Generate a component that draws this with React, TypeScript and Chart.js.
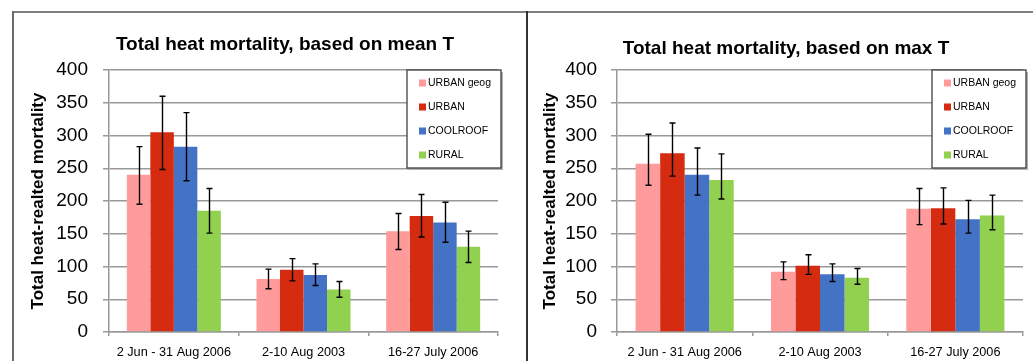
import React, { useEffect, useRef } from "react";
import { Chart, registerables } from "chart.js";

Chart.register(...registerables);

const categories = ["2 Jun - 31 Aug 2006", "2-10 Aug 2003", "16-27 July 2006"];
const seriesNames = ["URBAN geog", "URBAN", "COOLROOF", "RURAL"];
const seriesColors = ["#FF9B9B", "#D52B10", "#4472C4", "#92D050"];
const yMin = 0;
const yMax = 400;
const yStep = 50;
const yAxisTitle = "Total heat-realted mortality";

// Panel 1: based on mean T
const meanTitle = "Total heat mortality, based on mean T";
const meanUrbanGeog = [240, 81, 154];
const meanUrbanGeogLow = [195, 66, 126];
const meanUrbanGeogHigh = [283, 96, 181];
const meanUrban = [305, 95, 177];
const meanUrbanLow = [248, 78, 145];
const meanUrbanHigh = [360, 112, 210];
const meanCoolroof = [283, 87, 167];
const meanCoolroofLow = [231, 71, 137];
const meanCoolroofHigh = [335, 104, 198];
const meanRural = [185, 65, 130];
const meanRuralLow = [151, 53, 106];
const meanRuralHigh = [219, 77, 154];

// Panel 2: based on max T
const maxTitle = "Total heat mortality, based on max T";
const maxUrbanGeog = [257, 92, 188];
const maxUrbanGeogLow = [224, 80, 164];
const maxUrbanGeogHigh = [302, 107, 219];
const maxUrban = [273, 101, 189];
const maxUrbanLow = [238, 88, 165];
const maxUrbanHigh = [319, 118, 220];
const maxCoolroof = [240, 88, 172];
const maxCoolroofLow = [209, 77, 151];
const maxCoolroofHigh = [281, 104, 201];
const maxRural = [232, 83, 178];
const maxRuralLow = [203, 73, 156];
const maxRuralHigh = [272, 97, 209];

const FONT = "'Liberation Sans', Arial, sans-serif";

type PanelProps = {
  title: string;
  values: number[][];
  lows: number[][];
  highs: number[][];
  width: number;
  height: number;
  yAxisWidth: number;
  padRight: number;
  padTop: number;
  yTitlePad: number;
  yTickPad: number;
  titleX: number;
  titleY: number;
};

const errorBarPlugin = {
  id: "errorBars",
  afterDatasetsDraw(chart: any, _args: any, opts: any) {
    const ctx = chart.ctx;
    const yScale = chart.scales.y;
    ctx.save();
    ctx.strokeStyle = "#000";
    ctx.lineWidth = 1.4;
    chart.data.datasets.forEach((ds: any, i: number) => {
      const meta = chart.getDatasetMeta(i);
      meta.data.forEach((el: any, j: number) => {
        const lo = yScale.getPixelForValue(opts.lows[i][j]);
        const hi = yScale.getPixelForValue(opts.highs[i][j]);
        const x = Math.round(el.x) + 0.5;
        ctx.beginPath();
        ctx.moveTo(x, lo);
        ctx.lineTo(x, hi);
        ctx.moveTo(x - 3, lo);
        ctx.lineTo(x + 3, lo);
        ctx.moveTo(x - 3, hi);
        ctx.lineTo(x + 3, hi);
        ctx.stroke();
      });
    });
    ctx.restore();
  },
};

const boxLegendPlugin = {
  id: "boxLegend",
  afterDraw(chart: any) {
    const ctx = chart.ctx;
    const area = chart.chartArea;
    const w = 94;
    const h = 98;
    const x0 = area.right + 3 - w;
    const y0 = area.top;
    ctx.save();
    ctx.fillStyle = "#b0b0b0";
    ctx.fillRect(x0 + 2, y0 + 2, w, h);
    ctx.fillStyle = "#fff";
    ctx.fillRect(x0, y0, w, h);
    ctx.strokeStyle = "#404040";
    ctx.lineWidth = 1.3;
    ctx.strokeRect(x0, y0, w, h);
    ctx.font = `10.5px ${FONT}`;
    ctx.textBaseline = "middle";
    ctx.textAlign = "left";
    chart.data.datasets.forEach((ds: any, i: number) => {
      const cy = y0 + 13 + i * 24;
      ctx.fillStyle = ds.backgroundColor;
      ctx.fillRect(x0 + 12, cy - 3.5, 7, 7);
      ctx.fillStyle = "#000";
      ctx.fillText(ds.label, x0 + 21, cy + 0.5);
    });
    ctx.restore();
  },
};

const titlePlugin = {
  id: "panelTitle",
  afterDraw(chart: any, _args: any, opts: any) {
    const ctx = chart.ctx;
    ctx.save();
    ctx.font = `bold 19px ${FONT}`;
    ctx.fillStyle = "#000";
    ctx.textAlign = "center";
    ctx.textBaseline = "alphabetic";
    ctx.fillText(opts.text, opts.x, opts.y);
    ctx.restore();
  },
};

function Panel(p: PanelProps) {
  const ref = useRef<HTMLCanvasElement | null>(null);
  useEffect(() => {
    if (!ref.current) return;
    const chart = new Chart(ref.current, {
      type: "bar",
      data: {
        labels: categories,
        datasets: seriesNames.map((name, i) => ({
          label: name,
          data: p.values[i],
          backgroundColor: seriesColors[i],
          borderWidth: 0,
          categoryPercentage: 0.725,
          barPercentage: 1,
        })),
      },
      options: {
        responsive: false,
        animation: false,
        devicePixelRatio: 1,
        layout: { padding: { left: 0, right: p.padRight, top: p.padTop, bottom: 0 } },
        plugins: {
          legend: { display: false },
          tooltip: { enabled: false },
          title: { display: false },
          errorBars: { lows: p.lows, highs: p.highs },
          panelTitle: { text: p.title, x: p.titleX, y: p.titleY },
        } as any,
        scales: {
          x: {
            offset: true,
            grid: {
              offset: true,
              drawOnChartArea: false,
              drawTicks: true,
              tickLength: 4,
              color: "#999",
              lineWidth: 1.5,
            },
            border: { color: "#999", width: 1.5 },
            ticks: { color: "#000", padding: 9, font: { size: 12.7, family: FONT } },
            afterFit: (s: any) => {
              s.height = 29;
            },
          },
          y: {
            min: yMin,
            max: yMax,
            ticks: {
              stepSize: yStep,
              color: "#000",
              padding: p.yTickPad,
              font: { size: 19, family: FONT },
            },
            grid: { color: "#999", lineWidth: 1.5, tickLength: 6, drawTicks: true },
            border: { color: "#999", width: 1.5 },
            title: {
              display: true,
              text: yAxisTitle,
              color: "#000",
              font: { size: 17, weight: "bold", family: FONT },
              padding: { top: p.yTitlePad, bottom: 0 },
            },
            afterFit: (s: any) => {
              s.width = p.yAxisWidth;
            },
          },
        },
      },
      plugins: [errorBarPlugin, boxLegendPlugin, titlePlugin],
    });
    return () => chart.destroy();
  }, []);
  return <canvas ref={ref} width={p.width} height={p.height} style={{ width: p.width, height: p.height, display: "block" }} />;
}

export default function App() {
  return (
    <div style={{ position: "fixed", left: 0, top: 0, width: 1033, height: 361, background: "#fff", overflow: "hidden" }}>
      <div style={{ position: "absolute", left: 0, top: 0 }}>
        <Panel
          title={meanTitle}
          values={[meanUrbanGeog, meanUrban, meanCoolroof, meanRural]}
          lows={[meanUrbanGeogLow, meanUrbanLow, meanCoolroofLow, meanRuralLow]}
          highs={[meanUrbanGeogHigh, meanUrbanHigh, meanCoolroofHigh, meanRuralHigh]}
          width={526}
          height={361}
          yAxisWidth={109}
          padRight={28}
          padTop={70}
          yTitlePad={28}
          yTickPad={15}
          titleX={285}
          titleY={50}
        />
      </div>
      <div style={{ position: "absolute", left: 528, top: 0 }}>
        <Panel
          title={maxTitle}
          values={[maxUrbanGeog, maxUrban, maxCoolroof, maxRural]}
          lows={[maxUrbanGeogLow, maxUrbanLow, maxCoolroofLow, maxRuralLow]}
          highs={[maxUrbanGeogHigh, maxUrbanHigh, maxCoolroofHigh, maxRuralHigh]}
          width={505}
          height={361}
          yAxisWidth={89}
          padRight={10}
          padTop={70}
          yTitlePad={12}
          yTickPad={14}
          titleX={258}
          titleY={54}
        />
      </div>
      <div style={{ position: "absolute", left: 12, top: 11, width: 1021, height: 2, background: "#808080" }} />
      <div style={{ position: "absolute", left: 12, top: 11, width: 2, height: 350, background: "#6a6a6a" }} />
      <div style={{ position: "absolute", left: 526, top: 11, width: 2, height: 350, background: "#333" }} />
    </div>
  );
}
